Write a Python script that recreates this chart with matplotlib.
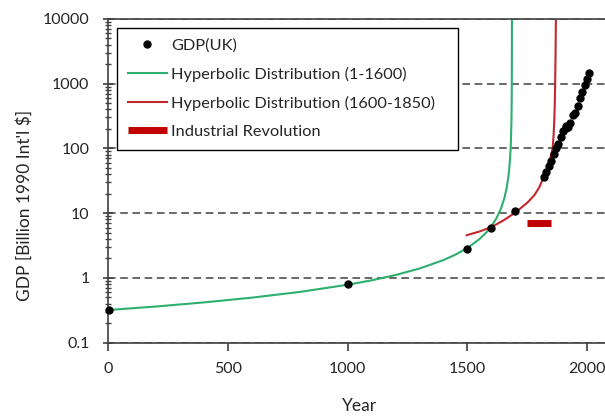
import matplotlib.pyplot as plt
from matplotlib.lines import Line2D

plt.rcParams['font.family'] = ['Lato', 'DejaVu Sans']

# UK GDP, billion 1990 Int'l $
gdp_years = [1, 1000, 1500, 1600, 1700, 1820, 1830, 1840, 1850, 1860, 1870, 1880,
             1890, 1900, 1910, 1913, 1920, 1930, 1940, 1950, 1960, 1970, 1980,
             1990, 2000, 2008]
gdp_values = [0.32, 0.8, 2.8, 6.0, 10.7, 36.2, 43.8, 53.2, 63.3, 81.8, 100.2, 116.4,
              150.3, 184.9, 207.8, 224.6, 212.9, 249.6, 330.6, 347.9, 452.8, 599.0,
              728.2, 944.6, 1179.8, 1446.0]

# hyperbolic fit 1-1600
fit1_years = [0, 200, 400, 600, 800, 1000, 1100, 1200, 1300, 1400, 1450, 1500, 1550,
              1580, 1600, 1620, 1640, 1655, 1665, 1672, 1677, 1680, 1682, 1684,
              1685, 1685.5, 1685.8, 1686]
fit1_values = [0.32, 0.363, 0.42, 0.497, 0.609, 0.787, 0.92, 1.11, 1.40, 1.89, 2.29,
               2.90, 3.97, 5.09, 6.28, 8.18, 11.7, 17.4, 25.7, 38.6, 60, 90, 135, 270,
               540, 1080, 2700, 10000]

# hyperbolic fit 1600-1850
fit2_years = [1497, 1550, 1600, 1650, 1700, 1750, 1780, 1800, 1820, 1835, 1845,
              1852, 1856, 1860, 1863, 1865, 1866.5, 1868, 1869.5]
fit2_values = [4.57, 5.2, 6.1, 7.7, 10.2, 14.5, 19, 25, 37, 52, 68, 86, 100, 160,
               280, 500, 1000, 2500, 10000]

# industrial revolution span
ir_years = [1750, 1850]
ir_level = [7.0, 7.0]

green = '#2daf70'
red = '#c0282d'
bar_red = '#c00000'
dark = '#404040'
txt = '#262626'

fig = plt.figure(figsize=(6.05, 4.17), dpi=100)
ax = fig.add_axes([0.179, 0.178, 0.831, 0.777])

ax.plot(fit1_years, fit1_values, color=green, lw=1.5, zorder=2)
ax.plot(fit2_years, fit2_values, color=red, lw=1.5, zorder=2)
ax.plot(ir_years, ir_level, color=bar_red, lw=5, solid_capstyle='butt', zorder=2)
ax.plot(gdp_years, gdp_values, 'o', color='black', ms=5, zorder=3, clip_on=False)

ax.set_yscale('log')
ax.set_ylim(0.1, 10000)
ax.set_xlim(0, 2100)
ax.set_xticks([0, 500, 1000, 1500, 2000])
ax.set_yticks([0.1, 1, 10, 100, 1000, 10000])
ax.set_yticklabels(['0.1', '1', '10', '100', '1000', '10000'])

ax.yaxis.grid(True, which='major', color=dark, lw=1.1, linestyle=(0, (5, 3)))
ax.set_axisbelow(True)

for side in ['left', 'bottom', 'top', 'right']:
    ax.spines[side].set_color(dark)
    ax.spines[side].set_linewidth(1.2)

ax.tick_params(axis='y', which='major', direction='inout', length=7, width=1.2,
               color=dark, labelsize=11.5, labelcolor=txt, pad=10)
ax.tick_params(axis='y', which='minor', direction='inout', length=4, width=1,
               color=dark)
ax.tick_params(axis='x', which='major', direction='out', length=6, width=1.2,
               color=dark, labelsize=11.5, labelcolor=txt, pad=8)
ax.tick_params(axis='x', which='minor', bottom=False)

ax.set_xlabel('Year', fontsize=12.5, labelpad=16, color=txt)
ax.set_ylabel("GDP [Billion 1990 Int'l $]", fontsize=12.5, color=txt)
ax.yaxis.set_label_coords(-0.15, 0.425)

handles = [
    Line2D([], [], marker='o', ls='none', color='black', ms=5),
    Line2D([], [], color=green, lw=1.5),
    Line2D([], [], color=red, lw=1.5),
    Line2D([], [], color=bar_red, lw=5, solid_capstyle='butt'),
]
labels = ['GDP(UK)', 'Hyperbolic Distribution (1-1600)',
          'Hyperbolic Distribution (1600-1850)', 'Industrial Revolution']
leg_box = (117 / 605, 1 - 146 / 417, (458 - 117) / 605, (146 - 28) / 417)
leg = ax.legend(handles, labels, loc='upper left', mode='expand',
                bbox_to_anchor=leg_box, bbox_transform=fig.transFigure,
                fontsize=11.75, frameon=True, fancybox=False, framealpha=1,
                edgecolor='black', handlelength=2.4, handletextpad=0.25,
                labelspacing=0.85, borderpad=0.65, borderaxespad=0)
leg.get_frame().set_linewidth(1.0)
for t in leg.get_texts():
    t.set_color(txt)

fig.savefig('out.png', dpi=100)
